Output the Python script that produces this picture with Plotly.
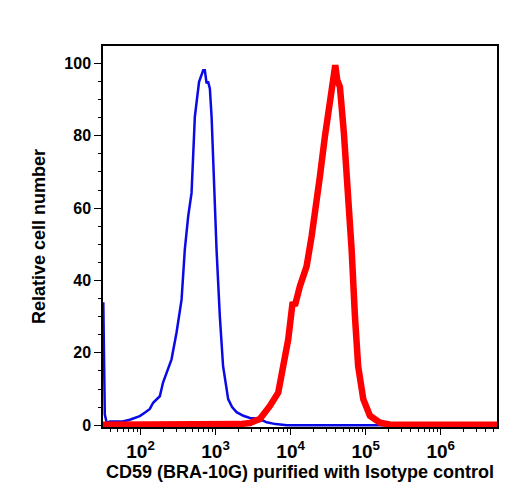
import numpy as np
import plotly.graph_objects as go

# Isotype control (blue): log10 fluorescence, relative cell number
blue_log = [1.504, 1.524, 1.545, 1.564, 1.59, 1.68, 1.764, 1.857, 1.93, 1.99, 2.06, 2.124, 2.168, 2.257, 2.30,
            2.36, 2.413, 2.48, 2.547, 2.59, 2.635, 2.68, 2.724, 2.78, 2.835, 2.857, 2.88, 2.90,
            2.924, 2.947, 2.977, 3.013, 3.057, 3.10, 3.168, 3.22, 3.28, 3.37, 3.457, 3.59, 3.68,
            3.80, 3.95, 6.75]
blue_val = [34, 3.0, 1.0, 0.7, 1.0, 1.0, 1.0, 1.5, 2.0, 2.5, 3.5, 4.5, 6.2, 8.0, 11.8,
            15.0, 18.2, 25.6, 34.7, 48.5, 57.7, 64.2, 85.3, 94.9, 98.1, 98.1, 94.5, 95,
            93, 85.3, 67, 48.5, 30, 16.3, 7.2, 5.0, 3.6, 2.6, 2.0, 1.7, 0.8,
            0.3, 0.0, 0.0]

# CD59 (BRA-10G) stained (red)
red_log = [1.50, 2.5, 3.0, 3.324, 3.457, 3.59, 3.724, 3.835, 3.901, 3.968, 4.027, 4.057, 4.124, 4.213,
           4.28, 4.337, 4.39, 4.457, 4.50, 4.56, 4.595, 4.621, 4.657, 4.71, 4.768, 4.813, 4.857,
           4.90, 4.968, 5.057, 5.19, 5.32, 6.75]
red_val = [0.1, 0.1, 0.2, 0.3, 0.6, 1.7, 5.3, 9.0, 16.3, 23.7, 34.0, 33.0, 38.4, 43.9,
           52.2, 59.6, 68.7, 79.8, 86.2, 94.5, 99.5, 95.4, 93.5, 80.7, 64.1, 48.5, 30.1,
           16.3, 7.2, 2.6, 0.7, 0.2, 0.1]

x_major = [1e2, 1e3, 1e4, 1e5, 1e6]
x_major_text = ["10<sup>2</sup>", "10<sup>3</sup>", "10<sup>4</sup>", "10<sup>5</sup>", "10<sup>6</sup>"]
x_minor = [m * 10 ** e for e in range(1, 7) for m in range(2, 10)]
y_major = [0, 20, 40, 60, 80, 100]

font_family = "Liberation Sans, Arial, sans-serif"

fig = go.Figure()
fig.add_trace(go.Scatter(x=[10 ** v for v in blue_log], y=blue_val, mode="lines",
                         line=dict(color="#0a0ae6", width=2.5), showlegend=False))
fig.add_trace(go.Scatter(x=[10 ** v for v in red_log], y=red_val, mode="lines",
                         line=dict(color="#ff0000", width=6.5), showlegend=False))

fig.update_layout(
    width=517, height=498,
    margin=dict(l=103, r=20, t=46, b=71),
    paper_bgcolor="white", plot_bgcolor="white",
    font=dict(family=font_family, color="black"),
    xaxis=dict(
        type="log", range=[1.5, 6.75],
        tickmode="array", tickvals=x_major, ticktext=x_major_text,
        ticks="outside", ticklen=6, tickwidth=1.2, tickcolor="black",
        minor=dict(tickmode="array", tickvals=x_minor, ticks="outside", ticklen=3,
                   tickwidth=1, tickcolor="black", showgrid=False),
        tickfont=dict(size=19, weight="bold", family=font_family),
        showline=True, linecolor="black", linewidth=1.5, mirror=True,
        showgrid=False, zeroline=False,
        title=dict(text="CD59 (BRA-10G) purified with Isotype control",
                   font=dict(size=18, weight="bold", family=font_family), standoff=2),
    ),
    yaxis=dict(
        range=[-0.5, 104.8],
        tickmode="array", tickvals=y_major,
        ticks="outside", ticklen=7, tickwidth=1.2, tickcolor="black",
        minor=dict(dtick=5, tick0=0, ticks="outside", ticklen=3, tickwidth=1,
                   tickcolor="black", showgrid=False),
        tickfont=dict(size=16, weight="bold", family=font_family),
        showline=True, linecolor="black", linewidth=1.5, mirror=True,
        showgrid=False, zeroline=False,
        title=dict(text="Relative cell number",
                   font=dict(size=18, weight="bold", family=font_family), standoff=14),
    ),
)

fig.write_html("out.html")
